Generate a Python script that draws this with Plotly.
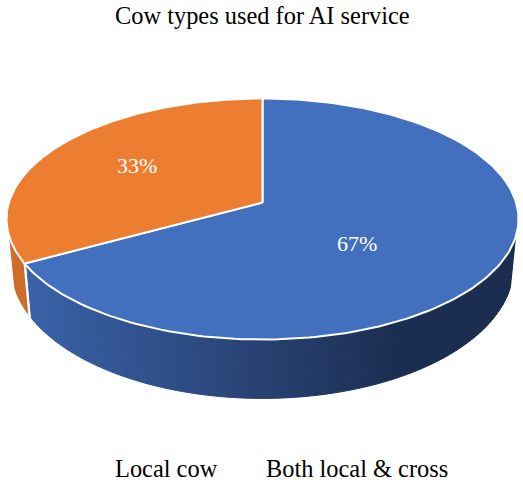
import numpy as np
import plotly.graph_objects as go

# data
categories = ['Both local & cross', 'Local cow']
values = [67, 33]
pct_labels = ['67%', '33%']
legend_labels = ['Local cow', 'Both local & cross']
title_text = 'Cow types used for AI service'

# look of the tilted disc, all in page pixels
CX = 262.5
TOP_Y = 202.5    # where the slices meet on the top face
BOTTOM_Y = 249   # same point on the underside
HALF_W = 253.6
HALF_H = 118.3
PERSP = 0.137
BOTTOM_SCALE_X = 0.98
BOTTOM_SCALE_Y = 1.09

TOP_COLORS = ['#4270BF', '#ED7D31']
FONT = 'Liberation Serif'


def disc(a_deg, y0, sx=1.0, sy=1.0):
    # a_deg runs clockwise from the far side of the pie
    a = np.radians(a_deg)
    w = 1 + PERSP * np.cos(a)
    return CX + sx * HALF_W * np.sin(a) / w, y0 - sy * HALF_H * np.cos(a) / w


def mix(c1, c2, t):
    r = [int(round(a + (b - a) * t)) for a, b in zip(c1, c2)]
    return 'rgb(%d,%d,%d)' % tuple(r)


def wall_color(x, slice_no):
    # side wall gets darker to the right, flat navy past about x=400
    if slice_no == 1:
        return mix((208, 112, 44), (204, 108, 42), min(x / 30, 1))
    t = min(max((x - 30) / 370, 0), 1)
    return mix((58, 98, 168), (27, 45, 80), t)


angles = np.cumsum([0] + values) / sum(values) * 360

fig = go.Figure()

# side walls, thin strips so the gradient shows
for i in range(2):
    start, end = angles[i], angles[i + 1]
    edges = np.arange(start, end + 0.01, 1.5)
    for a0, a1 in zip(edges[:-1], edges[1:]):
        mid = (a0 + a1) / 2
        if 107 < mid < 253:
            xt0, yt0 = disc(a0, TOP_Y)
            xt1, yt1 = disc(a1, TOP_Y)
            xb0, yb0 = disc(a0, BOTTOM_Y, BOTTOM_SCALE_X, BOTTOM_SCALE_Y)
            xb1, yb1 = disc(a1, BOTTOM_Y, BOTTOM_SCALE_X, BOTTOM_SCALE_Y)
            col = wall_color((xb0 + xb1) / 2, i)
            fig.add_trace(go.Scatter(
                x=[xt0, xt1, xb1, xb0, xt0], y=[yt0, yt1, yb1, yb0, yt0],
                mode='lines', fill='toself', fillcolor=col,
                line=dict(color=col, width=1), hoverinfo='skip'))

# white seam between the two walls
xj, yj = disc(angles[1], TOP_Y)
xk, yk = disc(angles[1], BOTTOM_Y, BOTTOM_SCALE_X, BOTTOM_SCALE_Y)
fig.add_trace(go.Scatter(x=[xj, xk], y=[yj, yk], mode='lines',
                         line=dict(color='white', width=2), hoverinfo='skip'))

# top face
for i in range(2):
    arc = np.linspace(angles[i], angles[i + 1], 200)
    ax, ay = disc(arc, TOP_Y)
    fig.add_trace(go.Scatter(
        x=np.r_[CX, ax, CX], y=np.r_[TOP_Y, ay, TOP_Y],
        mode='lines', fill='toself', fillcolor=TOP_COLORS[i],
        line=dict(color='white', width=2), name=categories[i], hoverinfo='skip'))

label_spots = [(356.5, 243), (137, 165)]
for txt, (lx, ly) in zip(pct_labels, label_spots):
    fig.add_annotation(x=lx, y=ly, text=txt, showarrow=False,
                       font=dict(family=FONT, size=22, color='white'))

fig.add_annotation(x=262, y=15, text=title_text, showarrow=False,
                   font=dict(family=FONT, size=24.4, color='black'))
fig.add_annotation(x=113, y=468, text=legend_labels[0], showarrow=False, xanchor='left',
                   font=dict(family=FONT, size=24.4, color='black'))
fig.add_annotation(x=264, y=468, text=legend_labels[1], showarrow=False, xanchor='left',
                   font=dict(family=FONT, size=24.4, color='black'))

fig.update_layout(
    width=523, height=482,
    margin=dict(t=0, b=0, l=0, r=0),
    paper_bgcolor='white', plot_bgcolor='white',
    showlegend=False,
    xaxis=dict(range=[0, 523], visible=False, fixedrange=True),
    yaxis=dict(range=[482, 0], visible=False, fixedrange=True),
)

# the browser's default body margin would push the chart off the page
fig.write_html("out.html", config=dict(displayModeBar=False),
               post_script="document.body.style.margin='0';document.documentElement.style.overflow='hidden';")
